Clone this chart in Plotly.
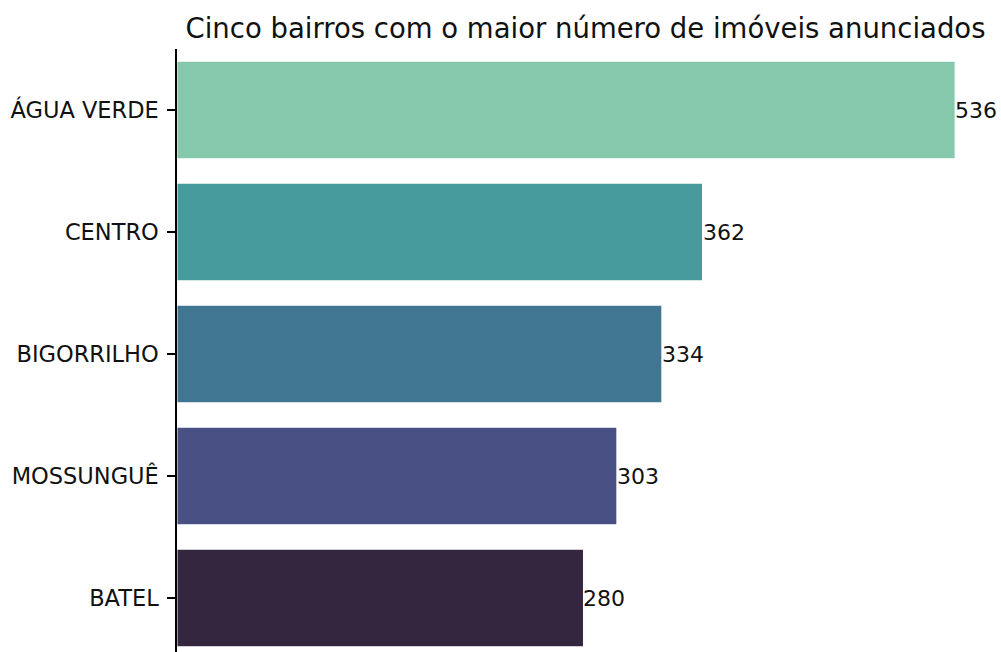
import plotly.graph_objects as go

bairros = ["ÁGUA VERDE", "CENTRO", "BIGORRILHO", "MOSSUNGUÊ", "BATEL"]
contagens = [536, 362, 334, 303, 280]
cores = ["#86c8ab", "#479b9d", "#417692", "#495083", "#35263f"]
titulo = "Cinco bairros com o maior número de imóveis anunciados"

W, H = 1001, 652
ml, mr, mt, mb = 177, 7, 49, 0
px_per_cat = 122.0
plot_h = H - mt - mb

fig = go.Figure()
fig.add_trace(go.Bar(
    x=contagens,
    y=bairros,
    orientation="h",
    marker=dict(color=cores, line=dict(color="white", width=1)),
    hoverinfo="x+y",
    showlegend=False,
))

for b, v in zip(bairros, contagens):
    fig.add_annotation(
        x=v, y=b, text=str(v), showarrow=False,
        xanchor="left", yanchor="middle", xshift=-2,
        font=dict(family="DejaVu Sans", size=22, color="#111111"),
    )

fig.update_layout(
    width=W, height=H, autosize=False,
    margin=dict(l=ml, r=mr, t=mt, b=mb, pad=0),
    paper_bgcolor="white", plot_bgcolor="white",
    bargap=0.2,
    font=dict(family="DejaVu Sans", size=22, color="#111111"),
    title=dict(
        text=titulo, x=(ml + (W - mr)) / 2 / W, xanchor="center",
        y=1 - 28 / H, yanchor="middle",
        font=dict(family="DejaVu Sans", size=27.5, color="#111111"),
    ),
)
fig.update_xaxes(
    range=[0, max(contagens) * 1.05],
    visible=False,
)
fig.update_yaxes(
    type="category",
    categoryorder="array", categoryarray=bairros,
    range=[-0.5 + plot_h / px_per_cat, -0.5],
    showline=True, linecolor="black", linewidth=1.5,
    ticks="outside", ticklen=8, tickwidth=1.5, tickcolor="black",
    showgrid=False, zeroline=False,
    ticklabelstandoff=4,
    tickfont=dict(family="DejaVu Sans", size=22.5, color="#111111"),
)

fig.write_html(
    "out.html",
    config={"displayModeBar": False},
    post_script="document.body.style.margin='0';document.body.style.overflow='hidden';",
)
